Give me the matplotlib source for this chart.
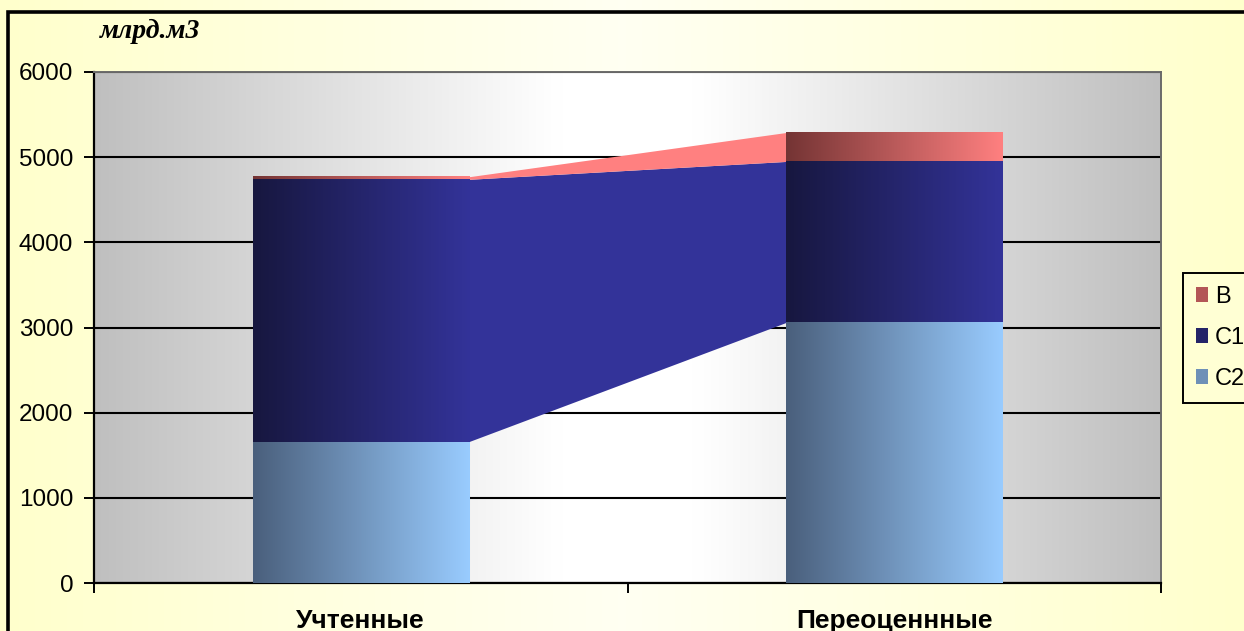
# stacked bars of gas reserves (bcm) with filled series lines between the bars
import numpy as np
import matplotlib.pyplot as plt
from matplotlib.colors import LinearSegmentedColormap, to_rgb
from matplotlib.patches import Rectangle, Patch

plt.rcParams['font.family'] = ['Liberation Sans', 'DejaVu Sans']

categories = ['Учтенные', 'Переоценнные']
series = ['С2', 'С1', 'В']
c2 = [1660, 3060]
c1 = [3080, 1890]
b = [30, 340]
yticks = [0, 1000, 2000, 3000, 4000, 5000, 6000]

# (dark, light) ends of the horizontal gradient of each series
shades = [('#4a5f7c', '#99ccff'),
          ('#17173f', '#333399'),
          ('#743434', '#ff8080')]
# fill colour of the band joining the bars (None = no band)
links = [None, '#333399', '#ff8080']


def mix(c_a, c_b, t):
    a, bb = np.array(to_rgb(c_a)), np.array(to_rgb(c_b))
    return tuple(a + (bb - a) * t)


fig = plt.figure(figsize=(12.44, 6.31), dpi=100)

# pale yellow backdrop, lighter towards the middle
bg = fig.add_axes([0, 0, 1, 1], zorder=-10)
t = np.linspace(0, 1, 256)
w = np.clip(1 - np.abs(t - 0.5) * 2, 0, 1)
back = np.zeros((1, 256, 3))
back[..., 0] = 1
back[..., 1] = 1
back[..., 2] = 0.80 + 0.15 * w
bg.imshow(back, extent=[0, 1, 0, 1], aspect='auto', interpolation='bicubic')
bg.set_xlim(0, 1)
bg.set_ylim(0, 1)
bg.axis('off')

# frame around the chart (runs off the right and bottom edges)
fig.patches.append(Rectangle((8 / 1244, -0.2), 1.5, 1.2 - 12 / 631,
                             transform=fig.transFigure, fill=False,
                             edgecolor='black', lw=2.6, zorder=5))

ax = fig.add_axes([94 / 1244, 48 / 631, 1067 / 1244, 511 / 631])
ax.set_axisbelow(True)

# grey-white-grey plot area
g = 0.75 + 0.25 * np.clip((1 - np.abs(t - 0.5) * 2) * 1.15, 0, 1)
plot_bg = np.stack([g, g, g], axis=-1)[None, :, :]
ax.imshow(plot_bg, extent=(0, 2, 0, 6000), aspect='auto', zorder=0,
          interpolation='bicubic')

x = np.array([0.5, 1.5])
width = 0.405
bottoms = np.zeros(2)
handles = []
for name, vals, (dark, light), link in zip(series, [c2, c1, b], shades, links):
    vals = np.array(vals, dtype=float)
    cont = ax.bar(x, vals, width, bottom=bottoms, color=light, lw=0, zorder=3)
    cmap = LinearSegmentedColormap.from_list(name, [dark, light])
    for rect in cont:
        x0, y0 = rect.get_x(), rect.get_y()
        x1, y1 = x0 + rect.get_width(), y0 + rect.get_height()
        ax.imshow(t[None, :], cmap=cmap, extent=(x0, x1, y0, y1),
                  aspect='auto', zorder=4, interpolation='bicubic')
    if link is not None:
        xl, xr = x[0] + width / 2, x[1] - width / 2
        ax.fill_between([xl, xr], bottoms, bottoms + vals, color=link,
                        lw=0, zorder=2.5)
    handles.append(Patch(facecolor=mix(dark, light, 0.45), edgecolor='none',
                         label=name))
    bottoms = bottoms + vals

ax.set_xlim(0, 2)
ax.set_ylim(0, 6000)
ax.set_yticks(yticks)
ax.yaxis.grid(True, color='black', lw=1.5)

ax.set_xticks([0, 1, 2])
ax.set_xticklabels([])
ax.set_xticks(x, minor=True)
ax.set_xticklabels(categories, minor=True, fontsize=19, fontweight='bold')
ax.tick_params(axis='x', which='major', direction='out', length=7, width=1.4)
ax.tick_params(axis='x', which='minor', length=0, pad=19)
ax.tick_params(axis='y', direction='out', length=7, width=1.4,
               labelsize=17.5, pad=8)

for side in ['left', 'bottom']:
    ax.spines[side].set_color('black')
    ax.spines[side].set_linewidth(1.6)
for side in ['top', 'right']:
    ax.spines[side].set_color('#6a6a6a')
    ax.spines[side].set_linewidth(1.4)

fig.text(100 / 1244, 1 - 31 / 631, 'млрд.м3', family='Liberation Serif',
         fontweight='bold', style='italic', fontsize=20, va='center')

leg = fig.legend(handles=handles[::-1], loc='upper left',
                 bbox_to_anchor=(1183 / 1244, 1 - 273 / 631),
                 fontsize=17, frameon=True, fancybox=False,
                 edgecolor='black', facecolor='#ffffd4', framealpha=1,
                 handlelength=0.5, handleheight=0.6, handletextpad=0.3,
                 labelspacing=0.8, borderpad=0.55, borderaxespad=0)
leg.get_frame().set_linewidth(1.4)

fig.savefig('out.png', dpi=100)
